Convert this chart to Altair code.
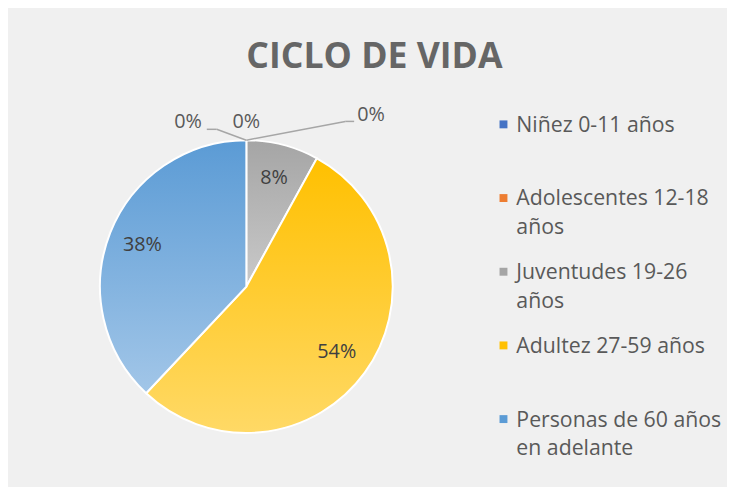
import altair as alt
import pandas as pd

# ---------------- data ----------------
categories = ["Niñez 0-11 años", "Adolescentes 12-18 años", "Juventudes 19-26 años",
              "Adultez 27-59 años", "Personas de 60 años en adelante", "Sin dato"]
percentages = [0, 0, 8, 54, 38, 0]
legend_labels = ["Niñez 0-11 años", "Adolescentes 12-18\naños", "Juventudes 19-26\naños",
                 "Adultez 27-59 años", "Personas de 60 años\nen adelante", ""]
in_legend = [True, True, True, True, True, False]

# ---------------- styles ----------------
colors = ["#4472C4", "#ED7D31", "#A5A5A5", "#FFC000", "#5B9BD5", "#70AD47"]
grad_top = ["#4472C4", "#ED7D31", "#A5A5A5", "#FFC000", "#5B9BD5", "#70AD47"]
grad_bottom = ["#8FAADC", "#F4B183", "#C9C9C9", "#FFD966", "#A2C6E8", "#A9D18E"]

FONT = "Open Sans"
CX, CY, R = 241, 279, 148
W, H = 727, 479

df = pd.DataFrame({
    "idx": list(range(len(categories))),
    "category": categories,
    "value": percentages,
    "legend_label": legend_labels,
    "in_legend": in_legend,
})

base = (
    alt.Chart(df)
    .transform_joinaggregate(total="sum(value)")
    .transform_window(cum="sum(value)", sort=[alt.SortField("idx")], frame=[None, 0])
    .transform_calculate(
        t0="(datum.cum - datum.value) / datum.total",
        t1="datum.cum / datum.total",
        tm="(datum.cum - datum.value / 2) / datum.total",
        label="datum.value + '%'",
    )
)

theta_scale = alt.Scale(domain=[0, 1], nice=False, zero=False)
color_enc = alt.Color("category:N", scale=alt.Scale(domain=categories, range=colors), legend=None)

layers = []

# slices with vertical gradients
for i, cat in enumerate(categories):
    if percentages[i] <= 0:
        continue
    grad = {
        "gradient": "linear", "x1": 0, "y1": 0, "x2": 0, "y2": 1,
        "stops": [{"offset": 0, "color": grad_top[i]}, {"offset": 1, "color": grad_bottom[i]}],
    }
    layers.append(
        base.transform_filter(alt.datum.category == cat)
        .mark_arc(outerRadius=R, stroke="white", strokeWidth=2, color=grad)
        .encode(
            x=alt.value(CX), y=alt.value(CY),
            theta=alt.Theta("t0:Q", scale=theta_scale),
            theta2="t1:Q",
        )
    )

# labels inside slices
layers.append(
    base.transform_filter("datum.value > 0")
    .mark_text(font=FONT, fontSize=20, color="#404040")
    .encode(
        x=alt.value(CX), y=alt.value(CY),
        theta=alt.Theta("tm:Q", scale=theta_scale),
        radius=alt.value(113),
        text="label:N",
    )
)

# zero-value labels outside the pie
zero_offsets = [(categories[0], 0, 0), (categories[1], 126, -7), (categories[5], -59, 0)]
for cat, dx, dy in zero_offsets:
    layers.append(
        base.transform_filter(alt.datum.category == cat)
        .mark_text(font=FONT, fontSize=20, color="#595959", dx=dx, dy=dy)
        .encode(
            x=alt.value(CX), y=alt.value(CY),
            theta=alt.Theta("t0:Q", scale=theta_scale),
            radius=alt.value(166),
            text="label:N",
        )
    )

# leader lines
top_y = CY - R
segments = [
    (CX, top_y, CX - 30, top_y - 11),
    (CX - 30, top_y - 11, CX - 40, top_y - 11),
    (CX, top_y, CX + 100, top_y - 19),
    (CX + 100, top_y - 19, CX + 109, top_y - 19),
]
one = pd.DataFrame({"a": [0]})
for x1, y1, x2, y2 in segments:
    layers.append(
        alt.Chart(one).mark_rule(color="#A6A6A6", strokeWidth=1.5).encode(
            x=alt.value(x1), y=alt.value(y1), x2=alt.value(x2), y2=alt.value(y2)
        )
    )

# legend
leg_y = alt.Y("category:N", scale=alt.Scale(domain=[c for c, k in zip(categories, in_legend) if k],
                                             range=[115, 413], padding=0), axis=None)
legend_base = base.transform_filter("datum.in_legend")
layers.append(
    legend_base.mark_square(size=64, opacity=1).encode(x=alt.value(501), y=leg_y, color=color_enc)
)
layers.append(
    legend_base.mark_text(font=FONT, fontSize=21.5, color="#595959", align="left",
                          baseline="alphabetic", dy=7.5, lineBreak="\n", lineHeight=29)
    .encode(x=alt.value(514), y=leg_y, text="legend_label:N")
)

chart = (
    alt.layer(*layers)
    .properties(
        width=W, height=H,
        title=alt.Title("CICLO DE VIDA", font=FONT, fontSize=36, fontWeight="bold",
                        color="#666666", anchor="middle", offset=0, dx=7, dy=66),
        background="#f0f0f0",
        padding=0,
        autosize=alt.AutoSizeParams(type="none"),
    )
    .configure_view(stroke=None)
)

chart.save("out.html", embed_options={"renderer": "svg", "actions": False})
